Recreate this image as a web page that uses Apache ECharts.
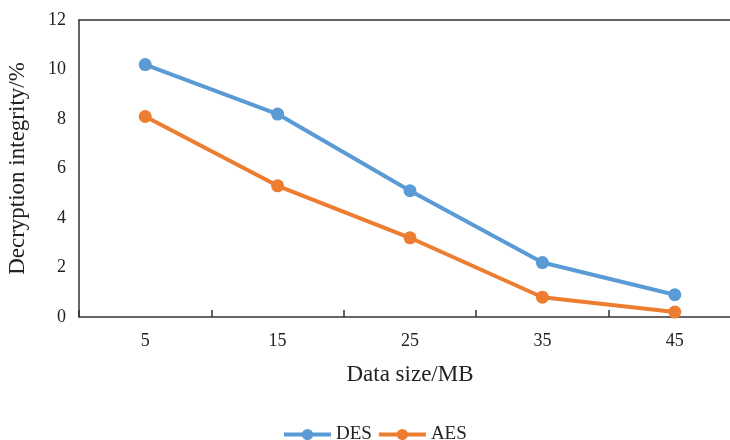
<!DOCTYPE html>
<html>
<head>
<meta charset="utf-8">
<script src="https://cdn.jsdelivr.net/npm/echarts@6/dist/echarts.min.js"></script>
<style>html,body{margin:0;padding:0;background:#fff;overflow:hidden}#c{width:730px;height:440px}</style>
</head>
<body>
<div id="c"></div>
<script>
var categories = ['5', '15', '25', '35', '45'];
var desValues = [10.2, 8.2, 5.1, 2.2, 0.9];
var aesValues = [8.1, 5.3, 3.2, 0.8, 0.2];
var yTicks = [0, 2, 4, 6, 8, 10, 12];

var font = 'Liberation Serif';
var chart = echarts.init(document.getElementById('c'));
chart.setOption({
  animation: false,
  backgroundColor: '#fff',
  textStyle: { fontFamily: font },
  grid: { left: 79, width: 662, top: 20, height: 297, containLabel: false, outerBoundsMode: 'none' },
  legend: {
    top: 420,
    left: 277,
    itemWidth: 47,
    itemHeight: 14,
    itemGap: 5,
    lineStyle: { width: 4 },
    textStyle: { fontFamily: font, fontSize: 19, color: '#222' },
    data: ['DES', 'AES']
  },
  xAxis: [{
    type: 'category',
    data: categories,
    name: 'Data size/MB',
    nameLocation: 'middle',
    nameGap: 46,
    nameTextStyle: { fontFamily: font, fontSize: 23, color: '#222' },
    axisLine: { lineStyle: { color: '#333', width: 1.5 } },
    axisTick: { show: true, inside: true, length: 7, lineStyle: { color: '#333', width: 1.5 } },
    axisLabel: { fontFamily: font, fontSize: 18, color: '#222', margin: 15 }
  }, {
    type: 'category',
    data: categories,
    position: 'top',
    axisLine: { lineStyle: { color: '#333', width: 1.5 } },
    axisTick: { show: false },
    axisLabel: { show: false }
  }],
  yAxis: {
    type: 'value',
    min: yTicks[0],
    max: yTicks[yTicks.length - 1],
    interval: 2,
    name: 'Decryption integrity/%',
    nameLocation: 'middle',
    nameGap: 50,
    nameTextStyle: { fontFamily: font, fontSize: 23, color: '#222' },
    axisLine: { show: true, lineStyle: { color: '#333', width: 1.5 } },
    axisTick: { show: false },
    splitLine: { show: false },
    axisLabel: { fontFamily: font, fontSize: 18, color: '#222', margin: 13 }
  },
  series: [{
    name: 'DES',
    type: 'line',
    data: desValues,
    symbol: 'circle',
    symbolSize: 13,
    color: '#5B9BD5',
    lineStyle: { width: 4, color: '#5B9BD5' },
    itemStyle: { color: '#5B9BD5' }
  }, {
    name: 'AES',
    type: 'line',
    data: aesValues,
    symbol: 'circle',
    symbolSize: 13,
    color: '#ED7D31',
    lineStyle: { width: 4, color: '#ED7D31' },
    itemStyle: { color: '#ED7D31' }
  }]
});
</script>
</body>
</html>
